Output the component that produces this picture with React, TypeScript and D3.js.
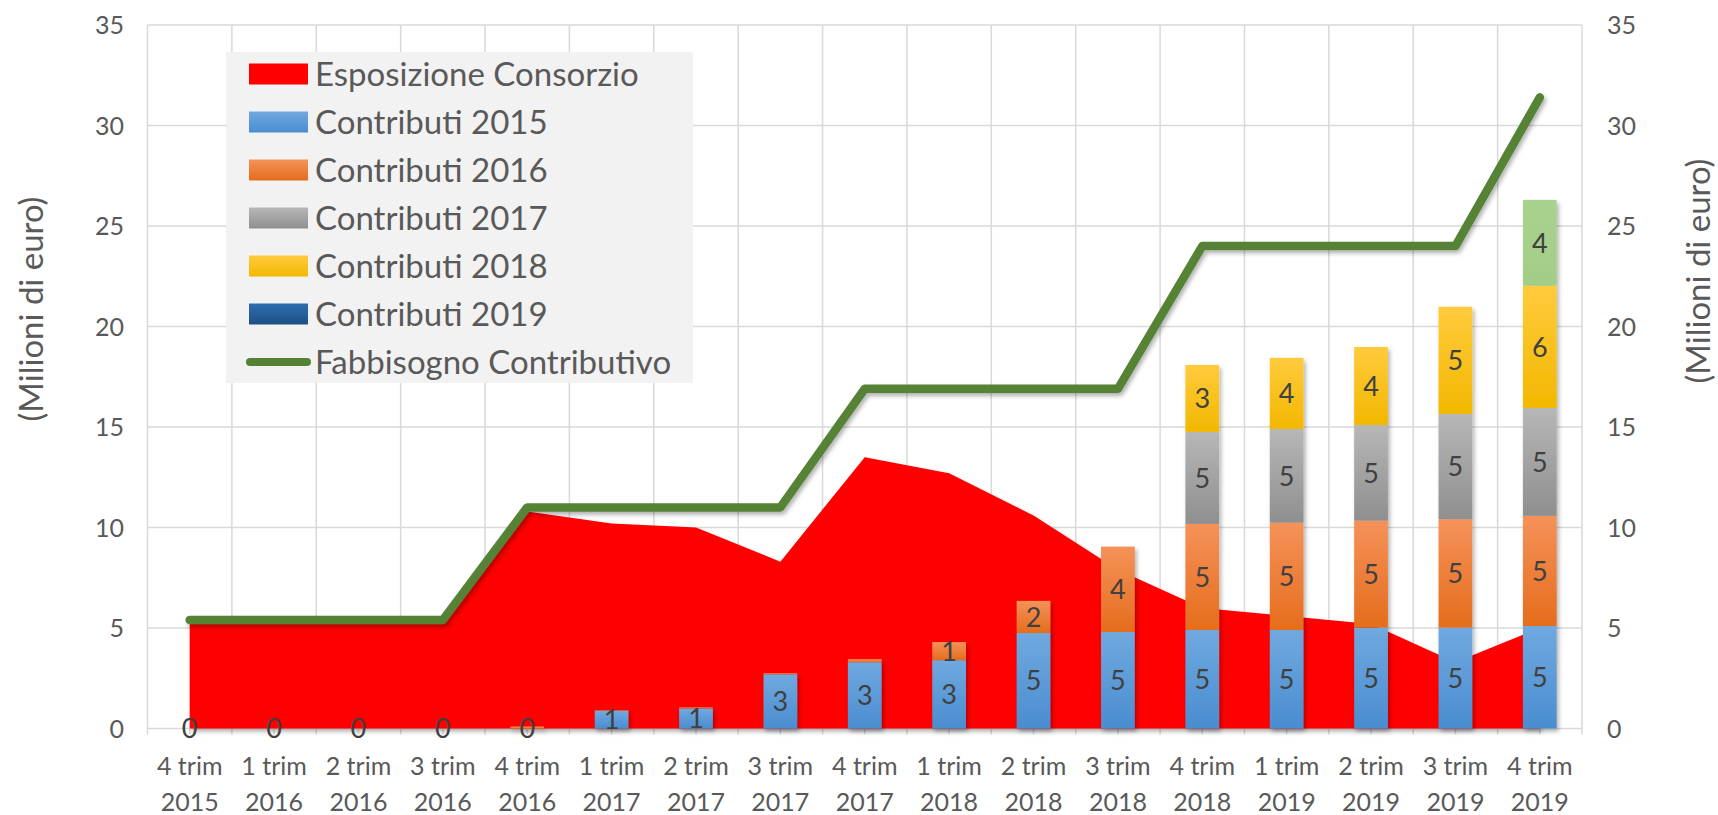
import React from "react";
import * as d3 from "d3";

const trimLabels = ["4 trim","1 trim","2 trim","3 trim","4 trim","1 trim","2 trim","3 trim","4 trim","1 trim","2 trim","3 trim","4 trim","1 trim","2 trim","3 trim","4 trim"];
const yearLabels = ["2015","2016","2016","2016","2016","2017","2017","2017","2017","2018","2018","2018","2018","2019","2019","2019","2019"];

const esposizione = [5.2, 5.2, 5.2, 5.2, 10.8, 10.2, 10.0, 8.3, 13.5, 12.7, 10.6, 7.9, 6.0, 5.6, 5.2, 3.3, 5.0];
const fabbisogno = [5.4, 5.4, 5.4, 5.4, 11.0, 11.0, 11.0, 11.0, 16.9, 16.9, 16.9, 16.9, 24.0, 24.0, 24.0, 24.0, 31.4];
const contributi2015 = [0, 0, 0, 0, 0, 0.89, 1.0, 2.7, 3.3, 3.4, 4.75, 4.8, 4.9, 4.9, 5.02, 5.02, 5.1];
const contributi2016 = [0, 0, 0, 0, 0.1, 0.03, 0.05, 0.05, 0.15, 0.9, 1.6, 4.25, 5.28, 5.34, 5.32, 5.39, 5.48];
const contributi2017 = [0, 0, 0, 0, 0, 0, 0, 0, 0, 0, 0, 0, 4.58, 4.66, 4.76, 5.24, 5.37];
const contributi2018 = [0, 0, 0, 0, 0, 0, 0, 0, 0, 0, 0, 0, 3.33, 3.54, 3.88, 5.33, 6.08];
const contributi2019 = [0, 0, 0, 0, 0, 0, 0, 0, 0, 0, 0, 0, 0, 0, 0, 0, 4.27];

const yTicks = [0, 5, 10, 15, 20, 25, 30, 35];
const legendLabels = ["Esposizione Consorzio", "Contributi 2015", "Contributi 2016", "Contributi 2017", "Contributi 2018", "Contributi 2019", "Fabbisogno Contributivo"];

const FONT = "Lato, 'Open Sans', sans-serif";
const TXT = "#595959";

export default function App() {
  const W = 1718, H = 815;
  const left = 147.5, right = 1582, top = 25, bottom = 728.5;
  const idx = trimLabels.map((_, i) => i);
  const x = d3.scaleBand<number>().domain(idx).range([left, right]).paddingInner(0.6).paddingOuter(0.3);
  const step = x.step();
  const cx = (i: number) => (x(i) as number) + x.bandwidth() / 2;
  const y = d3.scaleLinear().domain([0, 35]).range([bottom, top]);

  const keys = ["c2015", "c2016", "c2017", "c2018", "c2019"];
  const table = idx.map(i => ({
    c2015: contributi2015[i], c2016: contributi2016[i], c2017: contributi2017[i],
    c2018: contributi2018[i], c2019: contributi2019[i],
  }));
  const stacked = d3.stack<any>().keys(keys)(table);
  const fills = ["url(#gBlue)", "url(#gOrange)", "url(#gGray)", "url(#gYellow)", "url(#gGreen)"];

  const area = d3.area<number>().x((_, i) => cx(i)).y0(y(0)).y1(d => y(d))(esposizione) as string;
  const line = d3.line<number>().x((_, i) => cx(i)).y(d => y(d))(fabbisogno) as string;

  const boundaries = d3.range(0, idx.length + 1).map(k => left + k * step);

  const legendX = 226, legendY = 52, legendW = 467, legendH = 331;
  const legendRow = (i: number) => 74 + 48 * i;
  const legendFills = ["#ff0000", "url(#gBlue)", "url(#gOrange)", "url(#gGray)", "url(#gYellow)", "url(#gNavy)"];

  return (
    <svg width={W} height={H} style={{ position: "absolute", left: 0, top: 0, background: "#fff" }} fontFamily={FONT}>
      <defs>
        <linearGradient id="gBlue" x1="0" y1="0" x2="0" y2="1">
          <stop offset="0" stopColor="#70a9df" />
          <stop offset="1" stopColor="#4a8dd0" />
        </linearGradient>
        <linearGradient id="gOrange" x1="0" y1="0" x2="0" y2="1">
          <stop offset="0" stopColor="#f5925a" />
          <stop offset="1" stopColor="#e56d1c" />
        </linearGradient>
        <linearGradient id="gGray" x1="0" y1="0" x2="0" y2="1">
          <stop offset="0" stopColor="#b7b7b7" />
          <stop offset="1" stopColor="#8f8f8f" />
        </linearGradient>
        <linearGradient id="gYellow" x1="0" y1="0" x2="0" y2="1">
          <stop offset="0" stopColor="#ffcb3d" />
          <stop offset="1" stopColor="#f2b800" />
        </linearGradient>
        <linearGradient id="gGreen" x1="0" y1="0" x2="0" y2="1">
          <stop offset="0" stopColor="#a9d28e" />
          <stop offset="1" stopColor="#a3cd87" />
        </linearGradient>
        <linearGradient id="gNavy" x1="0" y1="0" x2="0" y2="1">
          <stop offset="0" stopColor="#2f6db0" />
          <stop offset="1" stopColor="#1d4f85" />
        </linearGradient>
        <filter id="shadow" x="-10%" y="-10%" width="130%" height="130%">
          <feDropShadow dx="2" dy="3" stdDeviation="2" floodColor="#000" floodOpacity="0.3" />
        </filter>
      </defs>

      {/* gridlines */}
      {yTicks.map(t => (
        <line key={"h" + t} x1={left} x2={right} y1={y(t)} y2={y(t)} stroke="#d9d9d9" strokeWidth={1.5} />
      ))}
      {boundaries.map((b, k) => (
        <line key={"v" + k} x1={b} x2={b} y1={top} y2={bottom + 6} stroke="#d9d9d9" strokeWidth={1.5} />
      ))}
      {idx.map(i => (
        <line key={"t" + i} x1={cx(i)} x2={cx(i)} y1={bottom} y2={bottom + 6} stroke="#d9d9d9" strokeWidth={1.5} />
      ))}

      {/* area */}
      <path d={area} fill="#ff0000" filter="url(#shadow)" />

      {/* bars */}
      <g filter="url(#shadow)">
        {stacked.map((s, si) => s.map((d, i) => {
          const h = y(d[0]) - y(d[1]);
          if (h <= 0) return null;
          return <rect key={si + "-" + i} x={x(i)} width={x.bandwidth()} y={y(d[1])} height={h} fill={fills[si]} />;
        }))}
      </g>

      {/* line */}
      <path d={line} fill="none" stroke="#548235" strokeWidth={8.5} strokeLinejoin="round" strokeLinecap="round" filter="url(#shadow)" />

      {/* bar labels */}
      {stacked.map((s, si) => s.map((d, i) => {
        const v = d[1] - d[0];
        if (si > 0 && v < 0.5) return null;
        return (
          <text key={"l" + si + "-" + i} x={cx(i)} y={y((d[0] + d[1]) / 2)} dy="0.36em" textAnchor="middle" fontSize={27} fill="#404040">
            {Math.round(v)}
          </text>
        );
      }))}

      {/* y tick labels */}
      {yTicks.map(t => (
        <text key={"yl" + t} x={124} y={y(t)} dy="0.36em" textAnchor="end" fontSize={25} fill={TXT}>{t}</text>
      ))}
      {yTicks.map(t => (
        <text key={"yr" + t} x={1607} y={y(t)} dy="0.36em" textAnchor="start" fontSize={25} fill={TXT}>{t}</text>
      ))}

      {/* x labels */}
      {idx.map(i => (
        <g key={"xl" + i}>
          <text x={cx(i)} y={775} textAnchor="middle" fontSize={25} fill={TXT}>{trimLabels[i]}</text>
          <text x={cx(i)} y={811} textAnchor="middle" fontSize={25} fill={TXT}>{yearLabels[i]}</text>
        </g>
      ))}

      {/* axis titles */}
      <text transform="translate(30,309) rotate(-90)" textAnchor="middle" dominantBaseline="central" fontSize={33} fill={TXT}>(Milioni di euro)</text>
      <text transform="translate(1697,271) rotate(-90)" textAnchor="middle" dominantBaseline="central" fontSize={33} fill={TXT}>(Milioni di euro)</text>

      {/* legend */}
      <rect x={legendX} y={legendY} width={legendW} height={legendH} fill="#f2f2f2" />
      {legendLabels.map((lab, i) => (
        <g key={"lg" + i}>
          {i < 6 ? (
            <rect x={249} y={legendRow(i) - 10.5} width={59} height={21} fill={legendFills[i]} />
          ) : (
            <line x1={250} x2={307} y1={legendRow(i)} y2={legendRow(i)} stroke="#548235" strokeWidth={8} strokeLinecap="round" />
          )}
          <text x={315} y={legendRow(i)} dy="0.36em" fontSize={33} fill={TXT}>{lab}</text>
        </g>
      ))}
    </svg>
  );
}
